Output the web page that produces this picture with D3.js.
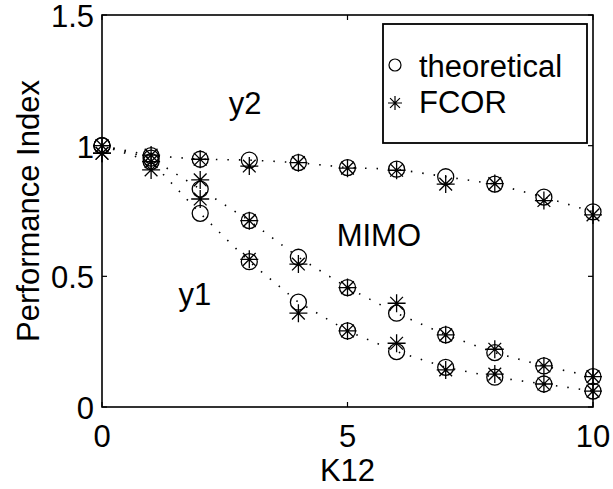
<!DOCTYPE html>
<html><head><meta charset="utf-8">
<script src="https://cdn.jsdelivr.net/npm/d3@7"></script>
<style>
html,body{margin:0;padding:0;background:#fff;}
text{font-family:"Liberation Sans",Arial,Helvetica,sans-serif;fill:#000;}
</style></head>
<body>
<svg id="chart" width="613" height="489"></svg>
<script>
// ---- data ----
const k12 = [0,1,2,3,4,5,6,7,8,9,10];
const y2Theoretical   = [1.000,0.962,0.948,0.945,0.935,0.916,0.910,0.881,0.853,0.803,0.747];
const y2FCOR          = [1.000,0.964,0.948,0.922,0.935,0.914,0.906,0.853,0.855,0.790,0.735];
const mimoTheoretical = [1.000,0.952,0.834,0.713,0.573,0.457,0.359,0.276,0.208,0.157,0.116];
const mimoFCOR        = [0.971,0.939,0.869,0.713,0.547,0.457,0.397,0.276,0.221,0.157,0.116];
const y1Theoretical   = [1.000,0.939,0.741,0.556,0.401,0.291,0.212,0.152,0.114,0.088,0.061];
const y1FCOR          = [0.971,0.907,0.796,0.565,0.359,0.291,0.244,0.142,0.126,0.088,0.061];
const xTicks = [0,5,10];
const yTicks = [0,0.5,1,1.5];
const xLabel = "K12";
const yLabel = "Performance Index";
const legendLabels = ["theoretical","FCOR"];
const annotations = [
  {text:"y2", x:2.58, y:1.12},
  {text:"MIMO", x:4.78, y:0.616},
  {text:"y1", x:1.56, y:0.39}
];

// ---- layout ----
const svg = d3.select("#chart");
const L = 102, R = 593, T = 15, B = 407;
const x = d3.scaleLinear().domain([0,10]).range([L,R]);
const y = d3.scaleLinear().domain([0,1.5]).range([B,T]);
const FS = 31;

const theoSeries = [y2Theoretical, mimoTheoretical, y1Theoretical];
const fcorSeries = [y2FCOR, mimoFCOR, y1FCOR];

// dotted lines through theoretical points
const line = d3.line().x((d,i)=>x(k12[i])).y(d=>y(d));
svg.append("g").selectAll("path").data(theoSeries).join("path")
  .attr("d", line).attr("fill","none").attr("stroke","#000")
  .attr("stroke-width",1.6).attr("stroke-dasharray","1.5 10").attr("stroke-linecap","butt");

// circles
const gC = svg.append("g");
theoSeries.forEach(s=>{
  gC.selectAll(null).data(s).join("circle")
    .attr("cx",(d,i)=>x(k12[i])).attr("cy",d=>y(d)).attr("r",8)
    .attr("fill","none").attr("stroke","#000").attr("stroke-width",1.3);
});

// asterisks
function star(s){
  const d = s*0.7071;
  return `M${-s},0L${s},0M0,${-s}L0,${s}M${-d},${-d}L${d},${d}M${-d},${d}L${d},${-d}`;
}
const gS = svg.append("g");
fcorSeries.forEach(s=>{
  gS.selectAll(null).data(s).join("path")
    .attr("transform",(d,i)=>`translate(${x(k12[i])},${y(d)})`)
    .attr("d",star(9)).attr("fill","none").attr("stroke","#000").attr("stroke-width",1.3);
});

// axes box
svg.append("rect").attr("x",L).attr("y",T).attr("width",R-L).attr("height",B-T)
  .attr("fill","none").attr("stroke","#000").attr("stroke-width",1.6);

// ticks (inward) on all sides
const tl = 5;
const xt = svg.append("g");
xTicks.forEach(v=>{
  xt.append("line").attr("x1",x(v)).attr("x2",x(v)).attr("y1",B).attr("y2",B-tl).attr("stroke","#000").attr("stroke-width",1.2);
  xt.append("line").attr("x1",x(v)).attr("x2",x(v)).attr("y1",T).attr("y2",T+tl).attr("stroke","#000").attr("stroke-width",1.2);
});
yTicks.forEach(v=>{
  xt.append("line").attr("x1",L).attr("x2",L+tl).attr("y1",y(v)).attr("y2",y(v)).attr("stroke","#000").attr("stroke-width",1.2);
  xt.append("line").attr("x1",R).attr("x2",R-tl).attr("y1",y(v)).attr("y2",y(v)).attr("stroke","#000").attr("stroke-width",1.2);
});

// tick labels
svg.append("g").selectAll("text").data(xTicks).join("text")
  .attr("x",d=>x(d)).attr("y",447).attr("text-anchor","middle").attr("font-size",FS)
  .text(d=>d3.format("")(d));
svg.append("g").selectAll("text").data(yTicks).join("text")
  .attr("x",94).attr("y",d=>y(d)+12).attr("text-anchor","end").attr("font-size",FS)
  .text(d=>d3.format("")(d));

// axis labels
svg.append("text").attr("x",x(5)).attr("y",481).attr("text-anchor","middle").attr("font-size",FS).text(xLabel);
svg.append("text").attr("transform",`translate(39,${(T+B)/2}) rotate(-90)`)
  .attr("text-anchor","middle").attr("font-size",FS).text(yLabel);

// annotations
svg.append("g").selectAll("text").data(annotations).join("text")
  .attr("x",d=>x(d.x)).attr("y",d=>y(d.y)).attr("font-size",FS).text(d=>d.text);

// legend
const lg = svg.append("g");
lg.append("rect").attr("x",383).attr("y",24).attr("width",204).attr("height",119)
  .attr("fill","#fff").attr("stroke","#000").attr("stroke-width",1.8);
lg.append("circle").attr("cx",395).attr("cy",65).attr("r",6).attr("fill","none").attr("stroke","#000").attr("stroke-width",1.2);
lg.append("path").attr("transform","translate(395,103)").attr("d",star(7)).attr("fill","none").attr("stroke","#000").attr("stroke-width",1.2);
lg.selectAll("text.lt").data(legendLabels).join("text").attr("class","lt")
  .attr("x",419).attr("y",(d,i)=>77+i*36).attr("font-size",FS).text(d=>d);
</script>
</body></html>
